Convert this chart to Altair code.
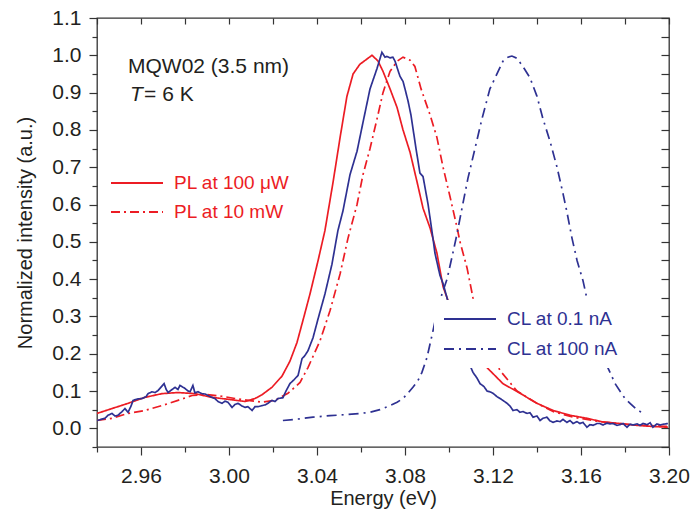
import altair as alt
import pandas as pd

RED = "#ec1c24"
BLUE = "#2e3192"
INK = "#231f20"
FONT = "Liberation Sans"

# ---------------- data ----------------
pl100_E = [2.9400, 2.9468, 2.9541, 2.9618, 2.9695, 2.9768, 2.9845, 2.9923, 2.9995, 3.0073,
           3.0118, 3.0150, 3.0195, 3.0241, 3.0277, 3.0309, 3.0341, 3.0368, 3.0405, 3.0436,
           3.0473, 3.0505, 3.0536, 3.0564, 3.0595, 3.0627, 3.0650, 3.0677, 3.0700, 3.0732,
           3.0764, 3.0791, 3.0823, 3.0855, 3.0882, 3.0914, 3.0945, 3.0973, 3.1027, 3.1073,
           3.1127, 3.1186, 3.1245, 3.1323, 3.1400, 3.1473, 3.1550, 3.1627, 3.1700, 3.1777,
           3.1855, 3.1927, 3.1995]
pl100_I = [0.040, 0.053, 0.067, 0.083, 0.093, 0.096, 0.093, 0.083, 0.078, 0.072,
           0.080, 0.090, 0.110, 0.140, 0.180, 0.230, 0.300, 0.360, 0.450, 0.530,
           0.660, 0.780, 0.890, 0.950, 0.976, 0.990, 1.000, 0.985, 0.957, 0.910,
           0.860, 0.800, 0.740, 0.660, 0.590, 0.537, 0.470, 0.380, 0.290, 0.230,
           0.190, 0.155, 0.120, 0.094, 0.067, 0.048, 0.035, 0.027, 0.017, 0.013,
           0.008, 0.005, 0.003]

pl10_E = [2.9400, 2.9468, 2.9541, 2.9618, 2.9695, 2.9768, 2.9832, 2.9891, 2.9968, 3.0027,
          3.0086, 3.0150, 3.0209, 3.0268, 3.0323, 3.0359, 3.0414, 3.0459, 3.0505, 3.0541,
          3.0582, 3.0609, 3.0641, 3.0673, 3.0700, 3.0732, 3.0764, 3.0791, 3.0823, 3.0845,
          3.0873, 3.0914, 3.0945, 3.0973, 3.1005, 3.1036, 3.1050, 3.1082, 3.1109, 3.1141,
          3.1186, 3.1232, 3.1309, 3.1400, 3.1473, 3.1564, 3.1686, 3.1823, 3.1995]
pl10_I = [0.021, 0.027, 0.040, 0.048, 0.061, 0.075, 0.088, 0.091, 0.086, 0.080,
          0.075, 0.070, 0.075, 0.094, 0.123, 0.163, 0.235, 0.315, 0.414, 0.510,
          0.600, 0.680, 0.750, 0.830, 0.900, 0.957, 0.984, 0.995, 0.987, 0.970,
          0.910, 0.840, 0.780, 0.700, 0.620, 0.540, 0.500, 0.430, 0.350, 0.290,
          0.210, 0.155, 0.100, 0.067, 0.045, 0.030, 0.018, 0.010, 0.005]

cl01_px = [97, 101, 105, 108, 112, 115, 118, 122, 125, 128, 131, 133, 138, 142, 146, 148, 152, 155,
           158, 160, 164, 166, 168, 172, 175, 178, 180, 183, 185, 188, 190, 193, 195, 198, 202, 205,
           208, 212, 215, 218, 222, 225, 228, 232, 235, 238, 242, 245, 248, 252, 255, 258, 262, 265,
           268, 272, 275, 278, 283, 286, 290, 294, 298, 302, 305, 308, 313, 318, 325, 332, 338, 343,
           350, 357, 363, 370, 377, 382, 385, 387, 390, 393, 395, 398, 400, 403, 405, 408, 411, 413,
           416, 420, 423, 428, 433, 435, 440, 443, 450, 458, 465, 473, 477, 480, 484, 487, 490, 493,
           497, 500, 503, 507, 510, 513, 517, 520, 523, 527, 530, 533, 537, 540, 543, 547, 550, 553,
           557, 560, 563, 567, 570, 573, 577, 580, 583, 587, 590, 593, 597, 600, 603, 607, 610, 613,
           617, 620, 623, 627, 630, 633, 637, 640, 643, 647, 650, 653, 657, 660, 663, 668]
cl01_E = [round(2.94 + (p - 97) / 2200, 4) for p in cl01_px]
cl01_I = [0.021, 0.024, 0.027, 0.035, 0.040, 0.033, 0.035, 0.045, 0.053, 0.043, 0.060, 0.075, 0.079,
          0.080, 0.085, 0.093, 0.098, 0.096, 0.101, 0.107, 0.120, 0.105, 0.096, 0.104, 0.110, 0.104,
          0.115, 0.110, 0.107, 0.100, 0.098, 0.115, 0.095, 0.098, 0.093, 0.092, 0.088, 0.083, 0.080,
          0.072, 0.067, 0.073, 0.070, 0.056, 0.064, 0.067, 0.060, 0.056, 0.058, 0.048, 0.058, 0.058,
          0.061, 0.063, 0.067, 0.075, 0.072, 0.080, 0.082, 0.100, 0.120, 0.130, 0.142, 0.187, 0.195,
          0.208, 0.243, 0.294, 0.360, 0.440, 0.530, 0.583, 0.680, 0.743, 0.820, 0.910, 0.965, 1.008,
          0.995, 0.997, 0.993, 0.995, 0.984, 0.960, 0.944, 0.930, 0.910, 0.877, 0.840, 0.805, 0.750,
          0.684, 0.675, 0.600, 0.510, 0.470, 0.410, 0.388, 0.320, 0.260, 0.200, 0.150, 0.135, 0.120,
          0.112, 0.100, 0.098, 0.094, 0.085, 0.080, 0.075, 0.067, 0.060, 0.048, 0.050, 0.043, 0.045,
          0.040, 0.042, 0.030, 0.033, 0.021, 0.027, 0.030, 0.020, 0.016, 0.020, 0.018, 0.024, 0.016,
          0.021, 0.013, 0.018, 0.013, 0.016, 0.003, 0.010, 0.008, 0.013, 0.013, 0.009, 0.014, 0.012,
          0.013, 0.008, 0.010, 0.013, 0.003, 0.011, 0.009, 0.012, 0.008, 0.013, 0.010, 0.015, 0.003,
          0.012, 0.009, 0.011, 0.013]

cl100_px = [283, 298, 313, 330, 347, 360, 370, 380, 390, 397, 403, 408, 413, 418, 422, 427, 432, 437,
            442, 447, 452, 457, 462, 468, 475, 482, 490, 497, 503, 508, 512, 517, 523, 530, 537, 543,
            550, 557, 563, 567, 572, 577, 583, 590, 597, 603, 610, 615, 620, 625, 630, 636, 643]
cl100_E = [round(2.94 + (p - 97) / 2200, 4) for p in cl100_px]
cl100_I = [0.021, 0.025, 0.030, 0.034, 0.037, 0.040, 0.043, 0.050, 0.061, 0.070, 0.080, 0.095, 0.110,
           0.128, 0.150, 0.190, 0.250, 0.310, 0.360, 0.400, 0.460, 0.520, 0.590, 0.670, 0.750, 0.830,
           0.910, 0.950, 0.984, 0.995, 0.998, 0.992, 0.970, 0.940, 0.890, 0.830, 0.770, 0.700, 0.630,
           0.580, 0.510, 0.450, 0.396, 0.310, 0.240, 0.190, 0.150, 0.120, 0.100, 0.080, 0.067, 0.052,
           0.040]

pl_names = ["PL at 100 \u03bcW", "PL at 10 mW"]
cl_names = ["CL at 0.1 nA", "CL at 100 nA"]

x_ticks = [2.94, 2.96, 2.98, 3.00, 3.02, 3.04, 3.06, 3.08, 3.10, 3.12, 3.14, 3.16, 3.18, 3.20]
y_ticks = [-0.05, 0.0, 0.05, 0.1, 0.15, 0.2, 0.25, 0.3, 0.35, 0.4, 0.45, 0.5, 0.55, 0.6,
           0.65, 0.7, 0.75, 0.8, 0.85, 0.9, 0.95, 1.0, 1.05, 1.1]

notes_text = ["MQW02 (3.5 nm)", "T", "= 6 K"]
notes_E = [2.9541, 2.9550, 2.9614]
notes_I = [0.952, 0.877, 0.877]
notes_style = ["normal", "italic", "normal"]

# ---------------- tables ----------------
pl_df = pd.concat([
    pd.DataFrame({"E": pl100_E, "I": pl100_I, "series": pl_names[0]}),
    pd.DataFrame({"E": pl10_E, "I": pl10_I, "series": pl_names[1]}),
])
cl_df = pd.concat([
    pd.DataFrame({"E": cl01_E, "I": cl01_I, "series": cl_names[0]}),
    pd.DataFrame({"E": cl100_E, "I": cl100_I, "series": cl_names[1]}),
])
notes_df = pd.DataFrame({"E": notes_E, "I": notes_I, "text": notes_text, "style": notes_style})

xscale = alt.Scale(domain=[2.94, 3.20], nice=False, zero=False)
yscale = alt.Scale(domain=[-0.05, 1.1], nice=False, zero=False)

major_x = "abs(datum.value*25 - round(datum.value*25)) < 0.01"
major_y = "abs(datum.value*10 - round(datum.value*10)) < 0.01"

common_axis = dict(grid=False, domain=False, tickColor="#333333", tickWidth=1.2,
                   labelFont=FONT, labelColor=INK, titleFont=FONT, titleColor=INK,
                   titleFontWeight="normal")

x_bottom = alt.Axis(orient="bottom", values=x_ticks,
                    labelExpr=f"{major_x} ? format(datum.value, '.2f') : ''",
                    tickSize={"condition": {"test": major_x, "value": 8}, "value": 5},
                    labelFontSize=21, labelPadding=10, labelFlush=False,
                    title="Energy (eV)", titleFontSize=20, titleBaseline="alphabetic",
                    titleY=57, titleX=286, **common_axis)
y_left = alt.Axis(orient="left", values=y_ticks,
                  labelExpr=f"{major_y} ? format(datum.value, '.1f') : ''",
                  tickSize={"condition": {"test": major_y, "value": 8}, "value": 5},
                  labelFontSize=21, labelPadding=8, labelFlush=False,
                  title="Normalized intensity  (a.u.)", titleFontSize=20,
                  titleBaseline="alphabetic", titleX=-66, titleY=214.5, **common_axis)
x_top = alt.Axis(orient="top", values=x_ticks, labels=False, tickSize=6, offset=-6,
                 title=None, **common_axis)
y_right = alt.Axis(orient="right", values=y_ticks, labels=False, tickSize=8, offset=-8,
                   title=None, **common_axis)


def legend(names, color, x, y, row_pad, pad, fill):
    kw = dict(orient="none", legendX=x, legendY=y, symbolType="stroke", symbolSize=2704,
              symbolStrokeWidth=2, clipHeight=20, rowPadding=row_pad, labelOffset=10,
              labelFont=FONT, labelFontSize=19, labelColor=color, padding=pad,
              labelLimit=300, values=names)
    if fill:
        kw["fillColor"] = fill
    return alt.Legend(**kw)


pl_leg = legend(pl_names, RED, 13, 155, 9, 0, None)
cl_leg = legend(cl_names, BLUE, 337, 282, 10, 9, "white")

pl_layer = alt.Chart(pl_df).mark_line(strokeWidth=1.7, clip=True).encode(
    x=alt.X("E:Q", scale=xscale, axis=x_bottom),
    y=alt.Y("I:Q", scale=yscale, axis=y_left),
    color=alt.Color("series:N", title=None, legend=pl_leg,
                    scale=alt.Scale(domain=pl_names, range=[RED, RED])),
    strokeDash=alt.StrokeDash("series:N", title=None, legend=pl_leg,
                              scale=alt.Scale(domain=pl_names, range=[[1, 0], [9, 4, 2, 4]])),
)

cl_layer = alt.Chart(cl_df).mark_line(strokeWidth=1.7, clip=True).encode(
    x=alt.X("E:Q", scale=xscale, axis=x_top),
    y=alt.Y("I:Q", scale=yscale, axis=y_right),
    color=alt.Color("series:N", title=None, legend=cl_leg,
                    scale=alt.Scale(domain=cl_names, range=[BLUE, BLUE])),
    strokeDash=alt.StrokeDash("series:N", title=None, legend=cl_leg,
                              scale=alt.Scale(domain=cl_names, range=[[1, 0], [10, 5, 2, 5]])),
)


def notes(style):
    return alt.Chart(notes_df).transform_filter(
        alt.datum.style == style
    ).mark_text(align="left", baseline="alphabetic", font=FONT, fontSize=21, color=INK,
                fontStyle=style).encode(
        x=alt.X("E:Q", scale=xscale, axis=None),
        y=alt.Y("I:Q", scale=yscale, axis=None),
        text="text:N",
    )


chart = alt.layer(pl_layer, cl_layer, notes("normal"), notes("italic")).resolve_scale(
    color="independent", strokeDash="independent"
).properties(
    width=572, height=429,
    autosize=alt.AutoSizeParams(type="none"),
    padding={"left": 97, "top": 18, "right": 21, "bottom": 72},
    background="white",
).configure_view(stroke="#333333", strokeWidth=1.3)

chart.save("out.html", embed_options={"renderer": "svg", "actions": False})
